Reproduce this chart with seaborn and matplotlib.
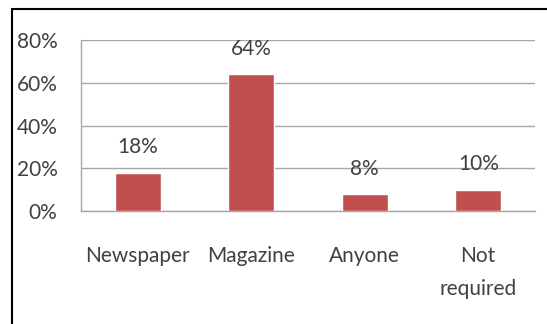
import matplotlib
matplotlib.use("Agg")
import matplotlib.pyplot as plt
import seaborn as sns
import pandas as pd

categories = ["Newspaper", "Magazine", "Anyone", "Not\nrequired"]
values = [18, 64, 8, 10]
value_labels = ["18%", "64%", "8%", "10%"]
y_ticks = [0, 20, 40, 60, 80]
y_tick_labels = ["0%", "20%", "40%", "60%", "80%"]

sns.set_theme(style="white")
plt.rcParams['font.family'] = ['Lato', 'DejaVu Sans']

df = pd.DataFrame({"cat": categories, "val": values})

fig = plt.figure(figsize=(5.47, 3.24), dpi=100)
ax = fig.add_axes([81/547, 1 - 211/324, (535-81)/547, (211-40)/324])

sns.barplot(data=df, x="cat", y="val", color="#C0504D", width=0.405,
            saturation=1, ax=ax, zorder=3)

FS = 15
ax.set_ylim(0, 80)
ax.set_xlim(-0.5, 3.5)
ax.set_yticks(y_ticks)
ax.set_yticklabels(y_tick_labels, fontsize=FS, color="#404040")
ax.set_xticks([0, 1, 2, 3])
ax.set_xticklabels(categories, fontsize=FS, color="#404040", linespacing=1.85, va="top")
ax.set_xlabel("")
ax.set_ylabel("")

for y in y_ticks:
    ax.axhline(y, color="#A6A6A6", lw=1, zorder=1)

for s in ["top", "right"]:
    ax.spines[s].set_visible(False)
ax.spines["left"].set_color("#A6A6A6")
ax.spines["bottom"].set_color("#A6A6A6")
ax.spines["left"].set_linewidth(1)
ax.spines["bottom"].set_linewidth(1)

ax.tick_params(axis="y", length=7, width=1, color="#A6A6A6", direction="out", pad=10)
ax.tick_params(axis="x", length=0, pad=25)
ax.set_xticks([-0.5, 0.5, 1.5, 2.5, 3.5], minor=True)
ax.tick_params(axis="x", which="minor", length=7, width=1, color="#A6A6A6", direction="out")

for i, (v, lab) in enumerate(zip(values, value_labels)):
    ax.annotate(lab, (i, v), xytext=(0, 11), textcoords="offset points",
                ha="center", va="bottom", fontsize=FS, color="#404040")

fig.add_artist(plt.Line2D([12/547, 12/547], [0, 1 - 9/324], color="black", lw=1.5, transform=fig.transFigure))
fig.add_artist(plt.Line2D([12/547, 1], [1 - 9/324, 1 - 9/324], color="black", lw=1.5, transform=fig.transFigure))

fig.savefig("out.png", dpi=100)
